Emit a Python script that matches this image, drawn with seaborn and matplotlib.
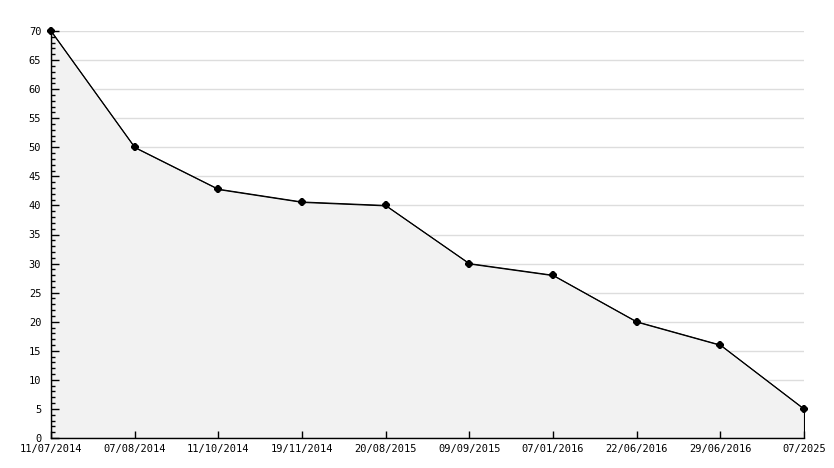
import matplotlib
matplotlib.use("Agg")
import matplotlib.pyplot as plt
from matplotlib.ticker import MultipleLocator
import seaborn as sns
import pandas as pd

# data
dates = ["11/07/2014", "07/08/2014", "11/10/2014", "19/11/2014", "20/08/2015",
         "09/09/2015", "07/01/2016", "22/06/2016", "29/06/2016", "07/2025"]
values = [70, 50, 42.8, 40.6, 40, 30, 28, 20, 16, 5]

df = pd.DataFrame({"pos": range(len(dates)), "date": dates, "value": values})

sns.set_theme(style="white")
plt.rcParams["font.family"] = ["DejaVu Sans Mono"]

fig = plt.figure(figsize=(8.34, 4.68), dpi=100)
ax = fig.add_axes([51 / 834, 1 - 438 / 468, (804 - 51) / 834, (438 - 31) / 468])

# filled area under the line
ax.fill_between(df["pos"], df["value"], 0, facecolor="#f2f2f2",
                edgecolor="black", linewidth=0.8, zorder=2)
sns.lineplot(data=df, x="pos", y="value", ax=ax, color="black", linewidth=0.75,
             marker="8", markersize=5.5, markeredgewidth=0, zorder=3, clip_on=False)

ax.set_xlim(0, len(dates) - 1)
ax.set_ylim(0, 70)
ax.set_xticks(df["pos"])
ax.set_xticklabels(dates)
ax.yaxis.set_major_locator(MultipleLocator(5))
ax.yaxis.set_minor_locator(MultipleLocator(1))

# horizontal grid behind the filled area, ticks stay on top
ax.grid(False)
ax.hlines(ax.get_yticks()[1:], 0, len(dates) - 1, color="#dddddd",
          linewidth=1, zorder=1)
ax.set_axisbelow(False)

ax.tick_params(axis="both", which="both", labelsize=7.5, colors="black", direction="in")
ax.tick_params(axis="y", which="major", length=6, width=1, left=True, pad=7)
ax.tick_params(axis="y", which="minor", length=3, width=1, left=True)
ax.tick_params(axis="x", which="major", length=5, width=1, bottom=True, pad=4)

for side in ["top", "right"]:
    ax.spines[side].set_visible(False)
for side in ["left", "bottom"]:
    ax.spines[side].set_color("black")
    ax.spines[side].set_linewidth(1)

ax.set_xlim(0, len(dates) - 1)
ax.set_ylim(0, 70)
ax.set_xlabel("")
ax.set_ylabel("")

fig.savefig("out.png", dpi=100)
